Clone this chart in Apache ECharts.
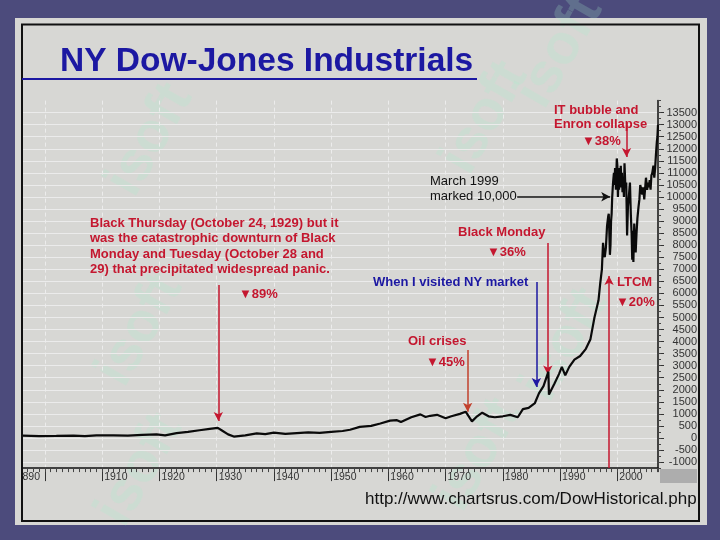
<!DOCTYPE html>
<html>
<head>
<meta charset="utf-8">
<script src="https://cdn.jsdelivr.net/npm/echarts@6/dist/echarts.min.js"></script>
<style>
  html, body { margin: 0; padding: 0; background: #4c4b7c; }
  #chart { width: 720px; height: 540px; }
</style>
</head>
<body>
<div id="chart"></div>
<script>
const RED = '#c4172f';
const BLUE = '#1c18a2';
const FONT = '"Liberation Sans", Arial, sans-serif';

// Dow close (year, points)
const years = [
  1896.1, 1899, 1902, 1905, 1907, 1909, 1912, 1914.5, 1917, 1919.5,
  1921, 1923, 1925, 1927, 1928.8, 1930.2, 1931, 1932, 1933, 1935,
  1937, 1938.5, 1940, 1942, 1944, 1946, 1948, 1950, 1952, 1953.3,
  1955, 1957, 1958.6, 1960.3, 1961.5, 1962.2, 1964, 1965.6, 1966.5, 1967.3,
  1968.5, 1970, 1971, 1972.5, 1973.5, 1974.6, 1975.5, 1976.4, 1977.5, 1978.6,
  1980, 1981.3, 1982.6, 1983.5, 1984.5, 1985.6, 1986.3, 1987.1, 1987.95, 1988.05,
  1989, 1989.8, 1990.3, 1990.9, 1991.6, 1992.5, 1993.5, 1994.5, 1995.3, 1996,
  1996.7, 1997, 1997.3, 1997.5, 1997.65, 1997.8, 1998, 1998.2, 1998.4, 1998.5,
  1998.6, 1998.7, 1998.8, 1998.9, 1999, 1999.1, 1999.25, 1999.4, 1999.5, 1999.6,
  1999.75, 1999.9, 2000, 2000.1, 2000.2, 2000.3, 2000.4, 2000.5, 2000.6, 2000.7,
  2000.8, 2000.9, 2001, 2001.15, 2001.25, 2001.4, 2001.55, 2001.7, 2001.85, 2002,
  2002.2, 2002.35, 2002.5, 2002.6, 2002.7, 2002.8, 2002.95, 2003.1, 2003.2, 2003.35,
  2003.5, 2003.7, 2003.85, 2004, 2004.2, 2004.35, 2004.5, 2004.7, 2004.9, 2005,
  2005.2, 2005.35, 2005.5, 2005.65, 2005.8, 2005.95, 2006.1, 2006.3, 2006.45, 2006.6,
  2006.75, 2006.9, 2007, 2007.1
];
const dowClose = [
  95, 80, 85, 95, 80, 110, 105, 95, 125, 150,
  110, 200, 250, 320, 380, 420, 300, 150, 60, 110,
  190, 160, 220, 170, 200, 230, 210, 250, 290, 340,
  460, 500, 600, 720, 740, 660, 860, 980, 870, 920,
  960, 820, 900, 1000, 1090, 690, 900, 1050, 900, 860,
  900, 960, 860, 1200, 1250, 1450, 1850, 2150, 2750, 1800,
  2250, 2650, 2950, 2600, 2950, 3250, 3400, 3700, 4100, 5000,
  5700, 6400, 7000, 8100, 7700, 7500, 7900, 8800, 9200, 9300,
  8500, 7600, 8000, 9000, 9300, 10000, 10600, 11000, 10500, 11200,
  10300, 11600, 11300, 10000, 10900, 10300, 11200, 10500, 11300, 10400,
  11000, 10200, 10800, 10000, 11400, 10400, 10600, 8400, 9600, 10000,
  10600, 9300, 8400, 7400, 8600, 7300, 8900, 8000, 7700, 8500,
  9100, 9600, 9900, 10500, 10300, 10100, 10400, 9900, 10500, 10800,
  10300, 10600, 10400, 10700, 10300, 10900, 11000, 11300, 10800, 11200,
  11800, 12300, 12500, 13000
];

const decadeTicks = [1900, 1910, 1920, 1930, 1940, 1950, 1960, 1970, 1980, 1990, 2000];
const decadeLabels = [1910, 1920, 1930, 1940, 1950, 1960, 1970, 1980, 1990, 2000];
const yTicks = [
  -1000, -500, 0, 500, 1000, 1500, 2000, 2500, 3000, 3500, 4000, 4500, 5000, 5500, 6000,
  6500, 7000, 7500, 8000, 8500, 9000, 9500, 10000, 10500, 11000, 11500, 12000, 12500, 13000, 13500
];

// annotation arrows in data coords: [year, points]
const arrowStart = [[1930.3, 6350], [1973.85, 3650], [1985.85, 6470], [1987.85, 8090], [1982.5, 10010], [2001.6, 13070], [1998.55, -1250]];
const arrowEnd = [[1930.3, 700], [1973.85, 1090], [1985.85, 2115], [1987.85, 2635], [1998.75, 10010], [2001.6, 11660], [1998.55, 6720]];
const arrowColors = [RED, '#c2402c', BLUE, RED, '#111', RED, RED];

const X_MIN = 1896, X_MAX = 2007.1;
const Y_MIN = -1250, Y_MAX = 14000;

const chart = echarts.init(document.getElementById('chart'));

function txt(text, x, y, opts) {
  return {
    type: 'text', x: x, y: y, silent: true, z: 50,
    style: Object.assign({
      text: text, fill: RED, font: 'bold 13px ' + FONT,
      textAlign: 'left', textVerticalAlign: 'middle'
    }, opts || {})
  };
}

const watermarks = [[150, 140], [485, 118], [560, 52], [140, 470], [478, 455], [565, 345], [140, 330]].map(p => ({
  type: 'text', x: p[0], y: p[1], rotation: 1.05, silent: true, z: -5,
  style: {
    text: 'isoft', font: 'bold 56px ' + FONT, fill: '#a8f0cf', opacity: 0.22,
    textAlign: 'center', textVerticalAlign: 'middle'
  }
}));

const option = {
  animation: false,
  backgroundColor: '#4c4b7c',
  grid: {
    left: 22, right: 62, top: 100.6, bottom: 71.9,
    outerBoundsMode: 'none', containLabel: false
  },
  xAxis: [{
    type: 'value', min: X_MIN, max: X_MAX, position: 'bottom',
    axisLine: { show: true, onZero: false, lineStyle: { color: '#111', width: 1.5 } },
    axisTick: { show: true, customValues: decadeTicks, length: 13, lineStyle: { color: '#333' } },
    axisLabel: {
      customValues: decadeLabels, align: 'left', margin: 4, padding: [0, 0, 0, 2],
      fontSize: 10.5, color: '#333', fontFamily: '"Liberation Sans Narrow", ' + FONT,
      formatter: v => String(v)
    },
    splitLine: { show: true, lineStyle: { color: '#ececec', type: [4, 3], width: 1 } }
  }, {
    type: 'value', min: X_MIN, max: X_MAX, interval: 1, position: 'bottom',
    axisLine: { show: false, onZero: false },
    axisTick: { show: true, length: 4, lineStyle: { color: '#444' } },
    axisLabel: { show: false },
    splitLine: { show: false }
  }],
  yAxis: [{
    type: 'value', min: Y_MIN, max: Y_MAX, position: 'right',
    axisLine: { show: true, onZero: false, lineStyle: { color: '#111', width: 1.5 } },
    axisTick: { show: true, customValues: yTicks, length: 6, lineStyle: { color: '#333' } },
    axisLabel: {
      customValues: yTicks, align: 'right', margin: 39,
      fontSize: 11, color: '#333', fontFamily: FONT,
      formatter: v => String(v)
    },
    splitLine: { show: true, lineStyle: { color: '#ebebeb', width: 1 } }
  }, {
    type: 'value', min: Y_MIN, max: Y_MAX, interval: 250, position: 'right',
    axisLine: { show: false, onZero: false },
    axisTick: { show: true, length: 3, lineStyle: { color: '#444' } },
    axisLabel: { show: false },
    splitLine: { show: false }
  }],
  series: [{
    type: 'line',
    xAxisIndex: 0, yAxisIndex: 0,
    data: years.map((y, i) => [y, dowClose[i]]),
    showSymbol: false,
    lineStyle: { color: '#0a0a0a', width: 2.2 },
    z: 5,
    markLine: {
      silent: true,
      animation: false,
      symbol: ['none', 'arrow'],
      symbolSize: [7, 9],
      label: { show: false },
      data: arrowStart.map((s, i) => [
        { coord: s, lineStyle: { color: arrowColors[i], width: 1.5, type: 'solid' } },
        { coord: arrowEnd[i] }
      ])
    }
  }],
  graphic: [
    { type: 'rect', z: -10, silent: true, shape: { x: 15, y: 18, width: 692, height: 507 }, style: { fill: '#d7d7d4' } },
    { type: 'rect', z: 40, silent: true, shape: { x: 22, y: 24.5, width: 677, height: 496.5 }, style: { fill: null, stroke: '#111', lineWidth: 2 } },
    { type: 'rect', z: 40, silent: true, shape: { x: 660, y: 469, width: 37, height: 14 }, style: { fill: '#adadad' } },
    ...watermarks,
    txt('NY Dow-Jones Industrials', 60, 62, { fill: BLUE, font: 'bold 33.5px ' + FONT }),
    { type: 'line', z: 50, silent: true, shape: { x1: 22, y1: 79, x2: 477, y2: 79 }, style: { stroke: BLUE, lineWidth: 2 } },
    txt('890', 40, 477, { fill: '#333', font: '10.5px "Liberation Sans Narrow", ' + FONT, textAlign: 'right' }),
    txt('http://www.chartsrus.com/DowHistorical.php', 365, 499, { fill: '#111', font: '17px ' + FONT }),

    txt('Black Thursday (October 24, 1929) but it\nwas the catastrophic downturn of Black\nMonday and Tuesday (October 28 and\n29) that precipitated widespread panic.',
      90, 215.3, { textVerticalAlign: 'top', lineHeight: 15.5 }),
    txt('\u25BC89%', 239, 294),
    txt('Oil crises', 408, 341),
    txt('\u25BC45%', 426, 362),
    txt('When I visited NY market', 373, 282, { fill: BLUE }),
    txt('Black Monday', 458, 232),
    txt('\u25BC36%', 487, 252),
    txt('March 1999\nmarked 10,000', 430, 174.5, { fill: '#111', font: '13px ' + FONT, textVerticalAlign: 'top', lineHeight: 14.5 }),
    txt('IT bubble and\nEnron collapse', 554, 103, { textVerticalAlign: 'top', lineHeight: 14.5 }),
    txt('\u25BC38%', 582, 141.5),
    txt('LTCM', 617, 282),
    txt('\u25BC20%', 616, 302)
  ]
};

chart.setOption(option);
</script>
</body>
</html>
